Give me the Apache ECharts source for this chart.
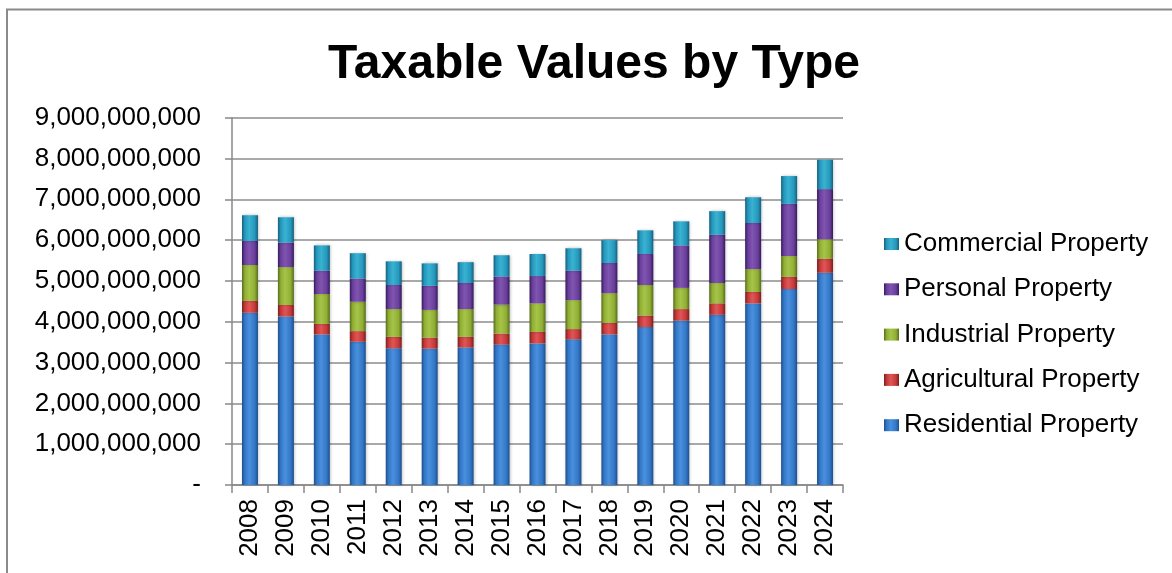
<!DOCTYPE html>
<html>
<head>
<meta charset="utf-8">
<script src="https://cdn.jsdelivr.net/npm/echarts@6/dist/echarts.min.js"></script>
<style>
  html, body { margin: 0; padding: 0; background: #fff; }
  #chart { width: 1172px; height: 573px; }
</style>
</head>
<body>
<div id="chart"></div>
<script>
// Assessment years
const years = ['2008','2009','2010','2011','2012','2013','2014','2015','2016','2017','2018','2019','2020','2021','2022','2023','2024'];

// Taxable values by property type (dollars)
const residential  = [4220000000,4130000000,3690000000,3510000000,3350000000,3340000000,3370000000,3440000000,3470000000,3570000000,3690000000,3870000000,4030000000,4170000000,4450000000,4800000000,5200000000];
const agricultural = [290000000,280000000,260000000,260000000,280000000,270000000,260000000,270000000,280000000,250000000,280000000,280000000,280000000,280000000,280000000,300000000,340000000];
const industrial   = [880000000,930000000,730000000,720000000,680000000,680000000,680000000,710000000,700000000,710000000,730000000,750000000,520000000,500000000,560000000,510000000,480000000];
const personal     = [590000000,600000000,570000000,570000000,590000000,590000000,640000000,690000000,670000000,720000000,740000000,760000000,1040000000,1180000000,1130000000,1280000000,1230000000];
const commercial   = [630000000,620000000,620000000,620000000,580000000,550000000,510000000,520000000,540000000,550000000,560000000,580000000,590000000,580000000,630000000,680000000,720000000];

// Value axis ticks
const yMin = 0, yMax = 9000000000, yStep = 1000000000;

const FONT = '"Liberation Sans", Arial, sans-serif';

// Bevelled bar look: dark edges, bright centre
function bevel(edge, mid, light) {
  return {
    type: 'linear', x: 0, y: 0, x2: 1, y2: 0,
    colorStops: [
      { offset: 0, color: edge },
      { offset: 0.18, color: mid },
      { offset: 0.45, color: light },
      { offset: 0.8, color: mid },
      { offset: 1, color: edge }
    ]
  };
}

const palette = {
  'Residential Property':  bevel('#1e4f8c', '#3377c8', '#4a90dc'),
  'Agricultural Property': bevel('#7a1e1e', '#c43a3a', '#e05555'),
  'Industrial Property':   bevel('#566c1c', '#8fae32', '#a6c44a'),
  'Personal Property':     bevel('#341a5c', '#6a3f9c', '#7f55b0'),
  'Commercial Property':   bevel('#15607e', '#2598bc', '#3ab2d2')
};

function stackSeries(name, values) {
  return {
    name: name,
    type: 'bar',
    stack: 'total',
    barWidth: 16,
    data: values,
    itemStyle: { color: palette[name], shadowColor: 'rgba(0,0,0,0.25)', shadowBlur: 3, shadowOffsetX: 1 },
    emphasis: { disabled: true }
  };
}

const chart = echarts.init(document.getElementById('chart'), null, { renderer: 'canvas' });

chart.setOption({
  animation: false,
  backgroundColor: '#ffffff',
  title: {
    text: 'Taxable Values by Type',
    left: 589,
    top: 36,
    textAlign: 'center',
    textStyle: { fontFamily: FONT, fontWeight: 'bold', fontSize: 48, color: '#000' }
  },
  graphic: [{
    type: 'polyline',
    shape: { points: [[7, 573], [7, 9.5], [1172, 9.5]] },
    style: { stroke: '#8a8a8a', lineWidth: 2, fill: null },
    silent: true
  }],
  legend: {
    orient: 'vertical',
    left: 879,
    top: 226,
    itemWidth: 15,
    itemHeight: 12,
    itemGap: 19.3,
    icon: 'rect',
    data: ['Commercial Property', 'Personal Property', 'Industrial Property', 'Agricultural Property', 'Residential Property'],
    textStyle: { fontFamily: FONT, fontSize: 26, color: '#000', lineHeight: 26 }
  },
  grid: { left: 232, right: 329, top: 117.7, bottom: 88, containLabel: false },
  xAxis: {
    type: 'category',
    data: years,
    axisLine: { lineStyle: { color: '#888', width: 1.5 } },
    axisTick: { show: true, length: 8, lineStyle: { color: '#888', width: 1.5 } },
    axisLabel: { rotate: 90, margin: 14, fontFamily: FONT, fontSize: 26, color: '#000' }
  },
  yAxis: {
    type: 'value',
    min: yMin,
    max: yMax,
    interval: yStep,
    axisLine: { show: true, lineStyle: { color: '#888', width: 1.5 } },
    axisTick: { show: true, length: 7, lineStyle: { color: '#888', width: 1.5 } },
    splitLine: { lineStyle: { color: '#8c8c8c', width: 1.5 } },
    axisLabel: {
      margin: 31,
      fontFamily: FONT,
      fontSize: 26,
      color: '#000',
      formatter: function (v) { return v === 0 ? '-' : v.toLocaleString('en-US'); }
    }
  },
  series: [
    stackSeries('Residential Property', residential),
    stackSeries('Agricultural Property', agricultural),
    stackSeries('Industrial Property', industrial),
    stackSeries('Personal Property', personal),
    stackSeries('Commercial Property', commercial)
  ]
});
</script>
</body>
</html>
